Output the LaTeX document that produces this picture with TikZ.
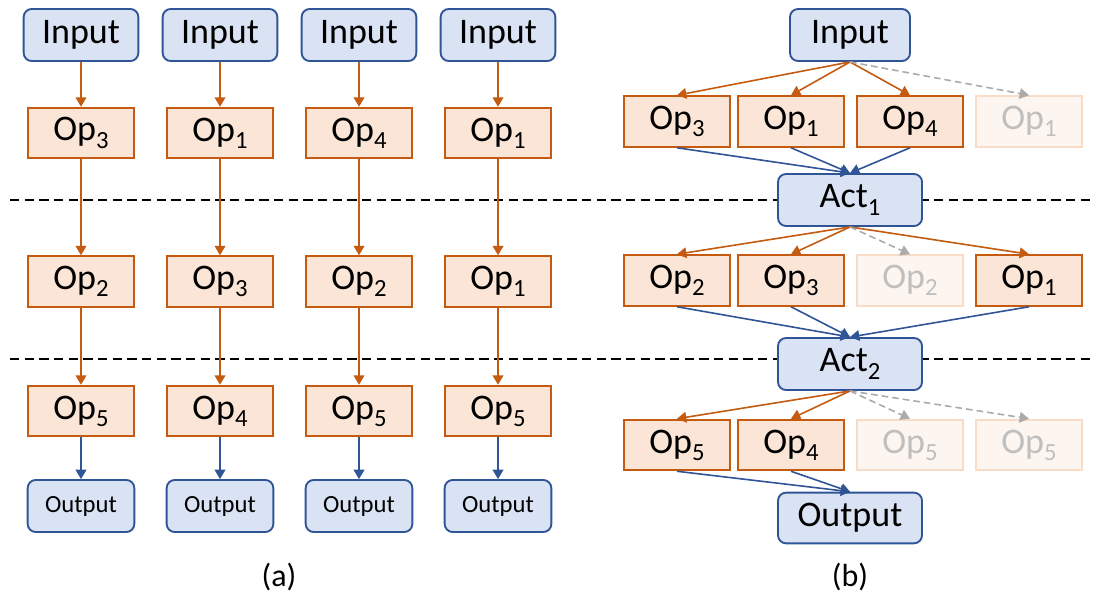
\documentclass[tikz,border=0pt]{standalone}
\usepackage{fontspec}
\setmainfont{Carlito}
\usetikzlibrary{arrows.meta}
\definecolor{OpLine}{HTML}{C55A11}
\definecolor{OpFill}{HTML}{FBE5D6}
\definecolor{IoLine}{HTML}{2F5597}
\definecolor{IoFill}{HTML}{DAE3F3}
\definecolor{GhostLine}{HTML}{F8DCC8}
\definecolor{GhostFill}{HTML}{FDF5EF}
\definecolor{GhostText}{HTML}{BFBFBF}
\definecolor{GhostArrow}{HTML}{ABABAB}
% subscript index, set a bit larger and lower than \textsubscript
\newcommand{\idx}[1]{\raisebox{-0.2em}{\fontsize{18.5}{18.5}\selectfont #1}}
\newcommand{\opn}[1]{Op\idx{#1}}
\tikzset{
    tensor/.style={
      rectangle,
      rounded corners=6pt,
      fill=IoFill,
      draw=IoLine,
      line width=1.4pt,
      minimum width=86pt,
      minimum height=39pt,
      inner sep=0pt,
      text=black,
      font=\fontsize{27}{30}\selectfont
    },
    smallout/.style={tensor, minimum width=80pt, font=\fontsize{18.5}{22}\selectfont},
    wide/.style={tensor, minimum width=108pt},
    operation/.style={
      rectangle,
      fill=OpFill,
      draw=OpLine,
      line width=1.4pt,
      minimum width=80pt,
      minimum height=38pt,
      inner sep=0pt,
      text=black,
      font=\fontsize{27}{30}\selectfont
    },
    ghost/.style={operation, fill=GhostFill, draw=GhostLine, text=GhostText},
    pick/.style={draw=OpLine, line width=1.2pt, -{Triangle[width=8pt,length=7pt]}},
    feed/.style={pick, draw=IoLine},
    skip/.style={pick, draw=GhostArrow, dash pattern=on 5pt off 3pt},
    layer/.style={draw=black, line width=1.1pt, dash pattern=on 7pt off 4pt},
    caption/.style={font=\fontsize{24}{28}\selectfont}
}

\begin{document}
\begin{tikzpicture}[x=0.75pt,y=-0.75pt]
    \useasboundingbox (0,0) rectangle (1094,596);

    % layer borders
    \coordinate (l1w) at (10,200);
    \coordinate (l1e) at (1094,200);
    \coordinate (l2w) at (10,359);
    \coordinate (l2e) at (1094,359);
    \draw[layer] (l1w) -- (l1e);
    \draw[layer] (l2w) -- (l2e);

    % (a) one path per column
    \foreach \x/\p/\q/\r [count=\i] in {81/3/2/5, 220/1/3/4, 359/4/2/5, 498/1/1/5} {
      \node[tensor] (in\i) at (\x,35) {Input};
      \node[operation] (a\i) at (\x,133) {\opn{\p}};
      \node[operation] (b\i) at (\x,281.5) {\opn{\q}};
      \node[operation] (c\i) at (\x,411) {\opn{\r}};
      \node[smallout] (out\i) at (\x,506) {Output};
      \draw[pick] (in\i) -- (a\i);
      \draw[pick] (a\i) -- (b\i);
      \draw[pick] (b\i) -- (c\i);
      \draw[feed] (c\i) -- (out\i);
    }
    \node[caption] (capa) at (279,577) {(a)};

    % (b) shared supernet
    \node[tensor, minimum width=90pt] (IN) at (850,35) {Input};

    \node[operation] (p1) at (677,121.5) {\opn{3}};
    \node[operation] (p2) at (791,121.5) {\opn{1}};
    \node[operation] (p3) at (910,121.5) {\opn{4}};
    \node[ghost] (p4) at (1029,121.5) {\opn{1}};

    \node[wide] (ACT1) at (850,200) {Act\idx{1}};

    \node[operation] (q1) at (677,280.5) {\opn{2}};
    \node[operation] (q2) at (791,280.5) {\opn{3}};
    \node[ghost] (q3) at (910,280.5) {\opn{2}};
    \node[operation] (q4) at (1029,280.5) {\opn{1}};

    \node[wide] (ACT2) at (850,364) {Act\idx{2}};

    \node[operation] (r1) at (677,445) {\opn{5}};
    \node[operation] (r2) at (791,445) {\opn{4}};
    \node[ghost] (r3) at (910,445) {\opn{5}};
    \node[ghost] (r4) at (1029,445) {\opn{5}};

    \node[wide, minimum height=38pt] (OUT) at (850,518) {Output};

    \foreach \n in {p1,p2,p3} \draw[pick] (IN.south) -- (\n.north);
    \draw[skip] (IN.south) -- (p4.north);
    \foreach \n in {p1,p2,p3} \draw[feed] (\n.south) -- (ACT1.north);

    \foreach \n in {q1,q2,q4} \draw[pick] (ACT1.south) -- (\n.north);
    \draw[skip] (ACT1.south) -- (q3.north);
    \foreach \n in {q1,q2,q4} \draw[feed] (\n.south) -- (ACT2.north);

    \foreach \n in {r1,r2} \draw[pick] (ACT2.south) -- (\n.north);
    \foreach \n in {r3,r4} \draw[skip] (ACT2.south) -- (\n.north);
    \foreach \n in {r1,r2} \draw[feed] (\n.south) -- (OUT.north);

    \node[caption] (capb) at (850,577) {(b)};

  \end{tikzpicture}
\end{document}
